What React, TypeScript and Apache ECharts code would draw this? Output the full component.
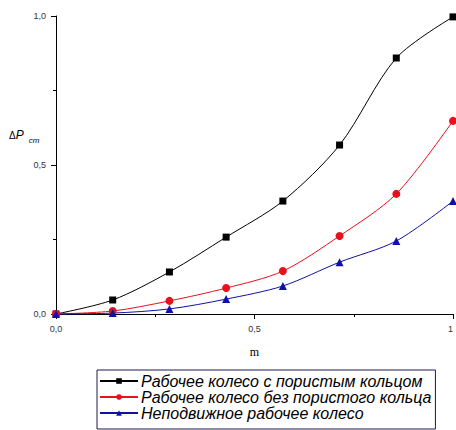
import React, { useEffect, useRef } from "react";
import * as echarts from "echarts";

const xValues = [0, 1 / 7, 2 / 7, 3 / 7, 4 / 7, 5 / 7, 6 / 7, 1];
const seriesNames = [
  "Рабочее колесо с пористым кольцом",
  "Рабочее колесо без пористого кольца",
  "Неподвижное рабочее колесо",
];
const porousRing = [0, 0.047, 0.141, 0.258, 0.379, 0.567, 0.859, 0.997];
const noPorousRing = [0, 0.01, 0.044, 0.087, 0.144, 0.262, 0.403, 0.648];
const fixedWheel = [0, 0.003, 0.017, 0.05, 0.094, 0.174, 0.245, 0.379];
const yTickLabels: Record<string, string> = { "0": "0,0", "0.5": "0,5", "1": "1,0" };
const xTickLabels: Record<string, string> = { "0": "0,0", "0.5": "0,5", "1": "1" };

const colors = ["#000000", "#e8101c", "#1010a8"];
const symbols = ["rect", "circle", "triangle"];
const symbolSizes = [7, 8, 8];

export default function App() {
  const ref = useRef<HTMLDivElement>(null);
  useEffect(() => {
    const chart = echarts.init(ref.current!, null, { renderer: "svg" });
    const data = [porousRing, noPorousRing, fixedWheel];
    chart.setOption({
      animation: false,
      backgroundColor: "#ffffff",
      grid: { left: 56, width: 403, top: 16, height: 298, containLabel: false },
      xAxis: {
        type: "value",
        min: 0,
        max: 1,
        interval: 0.5,
        name: "m",
        nameLocation: "middle",
        nameGap: 32,
        nameTextStyle: { fontFamily: "Liberation Serif, serif", fontSize: 12, color: "#000" },
        axisLine: { lineStyle: { color: "#000", width: 1 } },
        axisTick: { show: true, inside: false, length: 5, lineStyle: { color: "#000" } },
        minorTick: { show: true, splitNumber: 2, length: 3, lineStyle: { color: "#000" } },
        splitLine: { show: false },
        axisLabel: {
          formatter: (v: number) => xTickLabels[String(v)] ?? "",
          fontSize: 9,
          fontFamily: "Liberation Sans, Arial, sans-serif",
          color: "#333",
          margin: 10,
          alignMaxLabel: "right",
        },
      },
      yAxis: {
        type: "value",
        min: 0,
        max: 1,
        interval: 0.5,
        axisLine: { show: true, lineStyle: { color: "#000", width: 1 } },
        axisTick: { show: true, inside: false, length: 5, lineStyle: { color: "#000" } },
        minorTick: { show: true, splitNumber: 2, length: 3, lineStyle: { color: "#000" } },
        splitLine: { show: false },
        axisLabel: {
          formatter: (v: number) => yTickLabels[String(v)] ?? "",
          fontSize: 9,
          fontFamily: "Liberation Sans, Arial, sans-serif",
          color: "#333",
          margin: 10,
        },
      },
      legend: {
        orient: "vertical",
        left: 97,
        top: 370,
        padding: [3, 4, 8, 2],
        itemGap: 0,
        itemWidth: 38,
        itemHeight: 7,
        borderColor: "#1a1a50",
        borderWidth: 1,
        data: seriesNames,
        textStyle: {
          fontStyle: "italic",
          fontSize: 16,
          fontFamily: "Liberation Sans, Arial, sans-serif",
          color: "#000",
          padding: [0, 0, 0, -2],
        },
      },
      graphic: [
        {
          type: "text",
          left: 9,
          top: 129,
          style: {
            text: "{d|Δ}{p|P}{s|ст}",
            rich: {
              d: { fontSize: 10, fontFamily: "Liberation Sans, Arial", fill: "#000" },
              p: { fontSize: 12, fontStyle: "italic", fontFamily: "Liberation Sans, Arial", fill: "#000" },
              s: { fontSize: 8, fontStyle: "italic", fontFamily: "Liberation Sans, Arial", fill: "#000", padding: [10, 0, 0, 5] },
            },
          },
        },
      ],
      series: data.map((vals, i) => ({
        name: seriesNames[i],
        type: "line",
        smooth: 0.3,
        clip: false,
        symbol: symbols[i],
        symbolSize: symbolSizes[i],
        showAllSymbol: true,
        data: vals.map((v, j) => [xValues[j], v]),
        lineStyle: { color: colors[i], width: 1 },
        itemStyle: { color: colors[i] },
      })),
    });
    return () => chart.dispose();
  }, []);
  return (
    <div
      ref={ref}
      style={{ position: "fixed", left: 0, top: 0, width: 456, height: 430 }}
    />
  );
}
